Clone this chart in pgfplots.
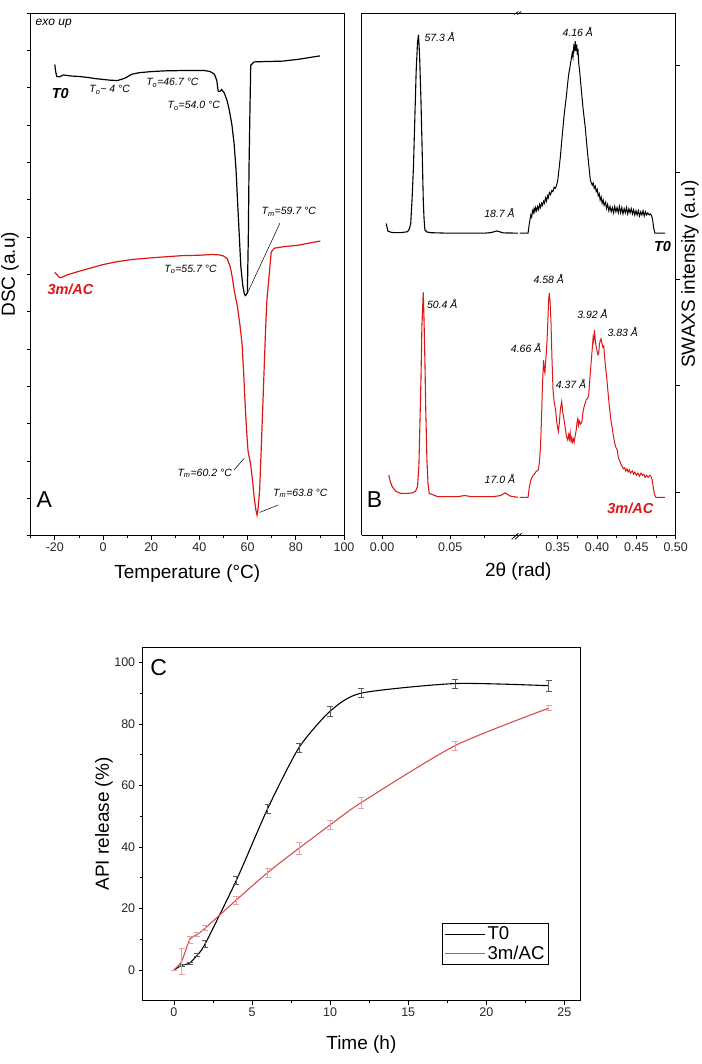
\documentclass[border=0pt]{standalone}
\usepackage{fontspec}
\setmainfont{Liberation Sans}
\usepackage{pgfplots}
\pgfplotsset{compat=1.18}
\definecolor{dscred}{RGB}{222,22,22}
\definecolor{relred}{RGB}{214,78,78}
\definecolor{relerr}{RGB}{232,160,160}
\newcommand{\fs}[1]{\fontsize{#1}{#1}\selectfont}
\pgfplotsset{
  every axis/.append style={scale only axis, clip=false, tick align=outside,
    /pgf/number format/assume math mode=true,
    tick label style={font=\fs{12.5}, text=black!85},
    label style={font=\fs{19}},
    axis line style={line width=0.9pt},
    major tick length=4pt, minor tick length=2.5pt,
    every tick/.style={black, line width=0.8pt}},
}
\tikzset{ann/.style={font=\fs{10.5}\itshape, inner sep=0pt},
  bigl/.style={font=\fs{14.5}\bfseries\itshape, inner sep=0pt}}
\begin{document}
\begin{tikzpicture}
\path[use as bounding box] (0,0) rectangle (701pt,1064pt);
% ---------------- Panel A ----------------
\begin{axis}[at={(30.7pt,528.4pt)}, anchor=south west, width=313.3pt, height=522.6pt,
 xmin=-30, xmax=100, ymin=0, ymax=14,
 xtick={-20,0,20,40,60,80,100}, minor xtick={-30,-10,10,30,50,70,90},
 ytick={0,1,...,14}, yticklabels={}, xtick pos=bottom, ytick pos=left,
 xlabel={Temperature (°C)}, ylabel={DSC (a.u)},
 xlabel style={at={(axis description cs:0.5,0)}, anchor=center, yshift=-37.7pt},
 ylabel style={at={(axis description cs:0,0.5)}, anchor=center, yshift=20.7pt}]
\addplot[black, line width=1.2pt] coordinates {
(-20,12.62) (-19.7,12.45) (-19.2,12.3) (-18,12.29) (-16.5,12.34) (-13,12.31) (-10,12.3)
(-6,12.27) (-3,12.24) (0,12.22) (3,12.2) (6,12.19) (9,12.25) (12,12.36) (15,12.4)
(20,12.43) (26,12.45) (35,12.46) (42,12.46) (44.5,12.43) (46.2,12.36) (47.2,12.2)
(47.8,11.9) (48.5,11.9) (49.2,11.95) (50.3,11.86) (51.5,11.65) (52.4,11.4) (53.5,11.0)
(54.4,10.5) (55.2,9.8) (55.8,9.0) (56.5,8.1) (57.2,7.2) (58,6.7) (58.6,6.49) (59.0,6.43)
(59.4,6.45) (59.9,6.5) (60.3,8.0) (60.6,9.9) (61.0,11.5) (61.3,12.6) (62.7,12.69)
(68,12.7) (74.4,12.71) (81.2,12.76) (85,12.8) (90,12.85)};
\addplot[dscred, line width=1.2pt] coordinates {
(-20,7.05) (-19,6.98) (-18,6.91) (-17,6.92) (-15,6.98) (-10,7.08) (-5,7.17) (0,7.26)
(6,7.34) (12.5,7.4) (20,7.44) (26.3,7.47) (33,7.5) (40,7.51) (45,7.53) (48.2,7.52)
(50,7.49) (51.5,7.42) (52.8,7.2) (53.7,6.9) (54.4,6.58) (55.8,6.13) (56.8,5.65)
(57.7,5.15) (58.4,4.3) (59.1,3.36) (59.8,2.6) (60.2,2.25) (61.2,1.94) (62,1.5)
(62.7,1.04) (63.4,0.7) (63.9,0.55) (64.4,0.75) (65,1.22) (65.7,2.4) (66.4,3.63)
(67.4,5.42) (68.0,6.31) (68.9,6.94) (69.8,7.6) (71.2,7.7) (75,7.74) (81.2,7.78)
(85,7.83) (90.2,7.89)};
\node[font=\fs{12}\itshape, anchor=west, inner sep=0pt] at (axis cs:-28,13.72) {exo up};
\node[bigl] at (axis cs:-17.7,11.85) {T0};
\node[ann] at (axis cs:2.76,11.94) {T\textsubscript{o}\textasciitilde\ 4 °C};
\node[ann] at (axis cs:28.8,12.13) {T\textsubscript{o}=46.7 °C};
\node[ann] at (axis cs:37.7,11.52) {T\textsubscript{o}=54.0 °C};
\node[ann] at (axis cs:77.1,8.67) {T\textsubscript{m}=59.7 °C};
\draw[line width=0.5pt] (axis cs:73.4,8.37) -- (axis cs:59.9,6.49);
\node[bigl, text=dscred] at (axis cs:-13.5,6.6) {3m/AC};
\node[ann] at (axis cs:36.3,7.13) {T\textsubscript{o}=55.7 °C};
\node[ann] at (axis cs:42.2,1.67) {T\textsubscript{m}=60.2 °C};
\draw[line width=0.5pt] (axis cs:54.4,1.76) -- (axis cs:58.6,2.07);
\node[ann] at (axis cs:81.9,1.13) {T\textsubscript{m}=63.8 °C};
\draw[line width=0.5pt] (axis cs:72.7,0.82) -- (axis cs:65.0,0.62);
\node[font=\fs{23}] at (axis cs:-24.4,0.97) {A};
\end{axis}
% ---------------- Panel B left ----------------
\begin{axis}[at={(361.7pt,528.7pt)}, anchor=south west, width=156.6pt, height=522.3pt,
 xmin=-0.015, xmax=0.10, ymin=-0.403, ymax=4.494,
 axis x line*=box, axis y line*=left,
 xtick={0,0.05}, xticklabels={0.00,0.05}, minor xtick={0.025,0.075},
 ytick=\empty, xtick pos=bottom,
 xlabel={2θ (rad)},
 xlabel style={at={(axis description cs:1,0)}, anchor=center, yshift=-36.4pt}]
\addplot[black, line width=1.1pt] coordinates {
(0.0030,2.52) (0.0042,2.45) (0.0060,2.44) (0.0086,2.434) (0.0140,2.435) (0.0186,2.443)
(0.0200,2.47) (0.0210,2.52) (0.0220,2.75) (0.0230,3.05) (0.0240,3.50) (0.0250,3.95)
(0.0260,4.22) (0.0267,4.29) (0.0275,4.10) (0.0285,3.68) (0.0295,3.15) (0.0302,2.74)
(0.0308,2.56) (0.0314,2.46) (0.0330,2.44) (0.0359,2.434) (0.0470,2.43) (0.0600,2.43)
(0.0755,2.43) (0.0800,2.435) (0.0842,2.45) (0.0870,2.44) (0.0890,2.432) (0.0996,2.43)};
\addplot[dscred, line width=1.1pt] coordinates {
(0.0049,0.162) (0.0060,0.10) (0.0074,0.053) (0.0100,0.01) (0.0136,-0.01) (0.0190,-0.01)
(0.0223,-0.005) (0.0245,0.01) (0.0260,0.053) (0.0270,0.25) (0.0277,0.615) (0.0285,1.05)
(0.0292,1.553) (0.0302,1.875) (0.0308,1.60) (0.0314,1.24) (0.0320,0.80) (0.0329,0.303)
(0.0337,0.08) (0.0346,-0.01) (0.0409,-0.041) (0.0560,-0.04) (0.0607,-0.03) (0.0650,-0.04)
(0.0818,-0.041) (0.0870,-0.03) (0.0903,-0.005) (0.0940,-0.035) (0.0996,-0.047)};
\node[ann, anchor=west] at (axis cs:0.031,4.27) {57.3 Å};
\node[ann] at (axis cs:0.0862,2.62) {18.7 Å};
\node[ann, anchor=west] at (axis cs:0.0329,1.763) {50.4 Å};
\node[ann] at (axis cs:0.0865,0.122) {17.0 Å};
\node[font=\fs{23}] at (axis cs:-0.0056,-0.072) {B};
\draw[line width=0.8pt] (axis cs:0.1,-0.403) ++(-6.6pt,-4pt) -- ++(6.6pt,6pt);
\draw[line width=0.8pt] (axis cs:0.1,-0.403) ++(-3.3pt,-4pt) -- ++(6.6pt,6pt);
\draw[line width=0.7pt] (axis cs:0.1,4.494) ++(-4pt,-1.5pt) -- ++(4pt,3pt);
\draw[line width=0.7pt] (axis cs:0.1,4.494) ++(-1pt,-1.5pt) -- ++(4pt,3pt);
\end{axis}
% ---------------- Panel B right ----------------
\begin{axis}[at={(518.3pt,528.7pt)}, anchor=south west, width=157.4pt, height=522.3pt,
 xmin=0.30, xmax=0.50, ymin=-0.403, ymax=4.494,
 axis x line*=box, axis y line*=right,
 xtick={0.35,0.40,0.45,0.50}, xticklabels={0.35,0.40,0.45,0.50},
 minor xtick={0.325,0.375,0.425,0.475},
 ytick={0,1,2,3,4}, yticklabels={}, ytick pos=right, xtick pos=bottom,
 ylabel={SWAXS intensity (a.u)},
 ylabel style={at={(axis description cs:1,0.5)}, anchor=center, yshift=-14.3pt}]
\addplot[black, line width=1.0pt] coordinates {
(0.3018,2.43) (0.3124,2.43) (0.3140,2.52) (0.3159,2.60) (0.3170,2.58) (0.3180,2.64)
(0.3190,2.62) (0.3200,2.66) (0.3210,2.63) (0.3220,2.67) (0.3232,2.64) (0.3245,2.68)
(0.3258,2.65) (0.3270,2.70) (0.3283,2.67) (0.3295,2.71) (0.3308,2.69) (0.3320,2.73)
(0.3333,2.71) (0.3345,2.76) (0.3358,2.73) (0.3370,2.78) (0.3381,2.76) (0.3395,2.81)
(0.3410,2.79) (0.3425,2.83) (0.3440,2.82) (0.3455,2.86) (0.3470,2.85) (0.3487,2.88)
(0.3500,2.92) (0.3510,2.98) (0.3520,3.05) (0.3535,3.15) (0.3550,3.28) (0.3565,3.40)
(0.3580,3.52) (0.3595,3.62) (0.3610,3.71) (0.3625,3.82) (0.3640,3.92) (0.3655,3.98)
(0.3670,4.05) (0.3685,4.12) (0.3695,4.08) (0.3705,4.18) (0.3715,4.15) (0.3723,4.23)
(0.3732,4.14) (0.3742,4.20) (0.3750,4.10) (0.3758,4.16) (0.3768,4.02) (0.3778,3.96)
(0.3790,3.86) (0.3805,3.74) (0.3820,3.62) (0.3835,3.52) (0.3851,3.42) (0.3865,3.30)
(0.3880,3.18) (0.3894,3.08) (0.3905,3.00) (0.3915,2.93) (0.3928,2.90) (0.3940,2.88)
(0.3952,2.90) (0.3965,2.85) (0.3978,2.87) (0.3990,2.82) (0.4003,2.84) (0.4015,2.78)
(0.4028,2.80) (0.4040,2.74) (0.4053,2.77) (0.4065,2.71) (0.4078,2.74) (0.4090,2.69)
(0.4108,2.72) (0.4120,2.66) (0.4135,2.70) (0.4150,2.64) (0.4165,2.68) (0.4180,2.63)
(0.4195,2.67) (0.4210,2.62) (0.4225,2.68) (0.4240,2.63) (0.4255,2.67) (0.4270,2.62)
(0.4285,2.68) (0.4300,2.62) (0.4315,2.67) (0.4330,2.61) (0.4345,2.66) (0.4360,2.62)
(0.4375,2.67) (0.4390,2.61) (0.4405,2.66) (0.4420,2.62) (0.4435,2.66) (0.4450,2.61)
(0.4465,2.65) (0.4480,2.60) (0.4495,2.64) (0.4510,2.60) (0.4525,2.64) (0.4540,2.59)
(0.4555,2.63) (0.4570,2.60) (0.4585,2.64) (0.4600,2.59) (0.4615,2.63) (0.4630,2.60)
(0.4645,2.62) (0.4663,2.60) (0.4680,2.61) (0.4695,2.59) (0.4705,2.56) (0.4720,2.48)
(0.4735,2.43) (0.4864,2.43)};
\addplot[dscred, line width=1.0pt] coordinates {
(0.3018,-0.047) (0.3124,-0.047) (0.3140,0.05) (0.3159,0.115) (0.3175,0.14) (0.3189,0.162)
(0.3205,0.17) (0.3220,0.19) (0.3237,0.20) (0.3253,0.21) (0.3265,0.26) (0.3275,0.35)
(0.3282,0.43) (0.3293,0.65) (0.3304,0.93) (0.3312,1.10) (0.3321,1.24) (0.3330,1.15)
(0.3338,1.12) (0.3350,1.25) (0.3364,1.40) (0.3375,1.60) (0.3385,1.80) (0.3394,1.87)
(0.3404,1.78) (0.3415,1.60) (0.3428,1.25) (0.3441,0.96) (0.3455,0.85) (0.3474,0.77)
(0.3490,0.65) (0.3509,0.57) (0.3520,0.64) (0.3535,0.78) (0.3551,0.85) (0.3565,0.75)
(0.3586,0.66) (0.3600,0.58) (0.3615,0.52) (0.3628,0.49) (0.3640,0.54) (0.3650,0.50)
(0.3659,0.56) (0.3670,0.48) (0.3680,0.51) (0.3688,0.47) (0.3700,0.50) (0.3710,0.47)
(0.3723,0.53) (0.3735,0.58) (0.3745,0.65) (0.3756,0.69) (0.3765,0.63) (0.3775,0.67)
(0.3790,0.64) (0.3808,0.66) (0.3820,0.74) (0.3835,0.80) (0.3851,0.84) (0.3865,0.87)
(0.3880,0.88) (0.3894,0.91) (0.3905,1.02) (0.3915,1.12) (0.3928,1.24) (0.3940,1.35)
(0.3950,1.45) (0.3958,1.42) (0.3967,1.52) (0.3978,1.43) (0.3990,1.36) (0.4000,1.33)
(0.4012,1.29) (0.4021,1.30) (0.4030,1.38) (0.4040,1.42) (0.4051,1.44) (0.4062,1.40)
(0.4075,1.36) (0.4086,1.37) (0.4095,1.28) (0.4108,1.18) (0.4120,1.10) (0.4130,1.02)
(0.4141,0.93) (0.4155,0.82) (0.4170,0.72) (0.4180,0.66) (0.4192,0.61) (0.4210,0.52)
(0.4225,0.46) (0.4240,0.42) (0.4257,0.40) (0.4270,0.33) (0.4285,0.30) (0.4300,0.27)
(0.4321,0.24) (0.4335,0.22) (0.4350,0.23) (0.4365,0.20) (0.4380,0.22) (0.4395,0.19)
(0.4410,0.21) (0.4425,0.18) (0.4449,0.20) (0.4465,0.17) (0.4480,0.19) (0.4500,0.16)
(0.4520,0.18) (0.4540,0.15) (0.4560,0.18) (0.4577,0.16) (0.4595,0.17) (0.4610,0.14)
(0.4630,0.16) (0.4650,0.14) (0.4670,0.16) (0.4685,0.15) (0.4700,0.12) (0.4714,0.05)
(0.4730,-0.02) (0.4749,-0.047) (0.4864,-0.047)};
\node[ann] at (axis cs:0.3755,4.32) {4.16 Å};
\node[bigl] at (axis cs:0.4833,2.30) {T0};
\node[ann] at (axis cs:0.3387,2.0) {4.58 Å};
\node[ann] at (axis cs:0.3099,1.35) {4.66 Å};
\node[ann] at (axis cs:0.367,1.015) {4.37 Å};
\node[ann] at (axis cs:0.3942,1.672) {3.92 Å};
\node[ann] at (axis cs:0.4327,1.506) {3.83 Å};
\node[bigl, text=dscred] at (axis cs:0.4423,-0.15) {3m/AC};
\end{axis}
% ---------------- Panel C ----------------
\begin{axis}[at={(142.7pt,63.3pt)}, anchor=south west, width=437.3pt, height=353.4pt,
 xmin=-2, xmax=26, ymin=-10, ymax=105,
 xtick={0,5,...,25}, minor x tick num=1, ytick={0,20,...,100}, minor y tick num=1,
 xtick pos=bottom, ytick pos=left,
 xlabel={Time (h)}, ylabel={API release (\%)},
 xlabel style={at={(axis description cs:0.5,0)}, anchor=center, yshift=-44.3pt},
 ylabel style={at={(axis description cs:0,0.5)}, anchor=center, yshift=38.7pt},
 legend style={at={(0.93,0.10)}, anchor=south east, font=\fs{18.6}, draw=black,
   line width=0.9pt, inner xsep=2pt, inner ysep=1pt, nodes={inner sep=2.5pt}},
 legend cell align=left,
 legend image code/.code={\draw[#1] (0pt,0pt) -- (40pt,0pt);}]
\addplot[black, line width=1.1pt, smooth, tension=0.4,
  error bars/.cd, y dir=both, y explicit,
  error bar style={line width=0.7pt, black!65},
  error mark options={rotate=90, mark size=3pt, line width=0.7pt, black!65}]
  table[x=x, y=y, y error=e] {
x y e
0 0 0
0.5 1.5 0.3
1 2.2 0.4
1.5 4.9 0.6
2 8.5 1.1
4 29.2 1.3
6 52.5 1.4
8 72.3 1.6
10 84.2 1.6
12 90.1 1.4
18 93.2 1.5
24 92.5 1.8
};
\addlegendentry{T0}
\addplot[relred, line width=1.1pt, smooth, tension=0.4,
  error bars/.cd, y dir=both, y explicit,
  error bar style={line width=0.7pt, relerr},
  error mark options={rotate=90, mark size=3pt, line width=0.7pt, relerr}]
  table[x=x, y=y, y error=e] {
x y e
0 0 0
0.5 2.9 4.2
1 9.8 1.0
1.5 11.6 0.8
2 13.6 0.8
4 22.8 1.3
6 31.7 1.5
8 39.6 1.9
10 47.2 1.5
12 54.5 1.8
18 73.0 1.5
24 85.2 0.8
};
\addlegendentry{3m/AC}
\node[font=\fs{23}] at (axis cs:-0.98,98.3) {C};
\end{axis}
\end{tikzpicture}
\end{document}
